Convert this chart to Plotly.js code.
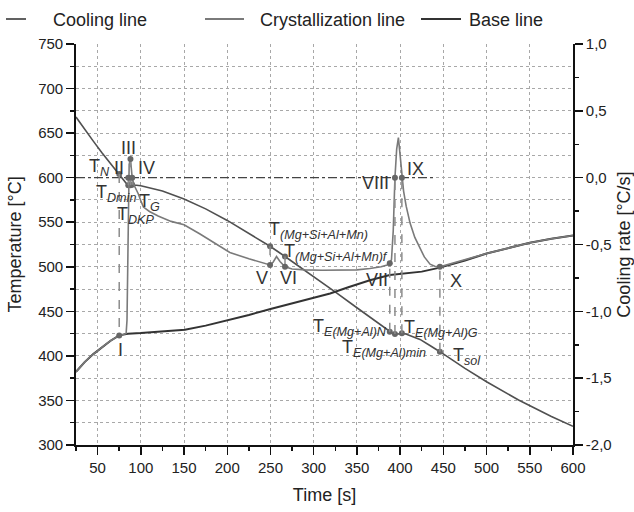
<!DOCTYPE html>
<html><head><meta charset="utf-8">
<script src="https://cdn.plot.ly/plotly-3.0.1.min.js"></script>
<style>html,body{margin:0;padding:0;background:#fff}#chart{width:634px;height:512px}</style>
</head><body><div id="chart"></div>
<script>
// Cooling line (temperature, left axis)
const coolTime = [25,35,45,55,65,75,80,84,86.5,88,90,95,100,125,150,175,200,225,249.5,266.8,300,326,350,370,388,391,394,398,402,406,411,423,434,446,475,500,537,550,575,600];
const coolTemp = [668,654,641,628,616,604,597,592.5,591.5,591.5,592,591.5,591,585,576,565,552,537.5,523,511.5,489,471,454,440,427,425.5,424.6,424.8,425.4,424.8,423,418.5,412,404.7,386,371,350.5,344,332,321];
// Crystallization line (cooling rate, right axis)
const crystTime = [25,30,35,40,45,50,55,60,65,70,75,80,83,84,84.8,85.5,86.5,88,89,90,92,95,97,100,103,110,120,135,150,168,185,203,225,240,249.5,253,257,261,266.8,275,290,310,330,350,365,378,385,388,390,392,393,394,396,398,400,402,404,407,411.5,417,423,428,434.6,440,446,460,480,500,525,550,575,600];
const crystRate = [-1.453,-1.413,-1.38,-1.347,-1.32,-1.293,-1.267,-1.243,-1.22,-1.2,-1.18,-1.173,-1.165,-1.067,-0.6,0,0.1,0.14,0.08,0,-0.053,-0.093,-0.12,-0.173,-0.22,-0.253,-0.287,-0.327,-0.353,-0.42,-0.487,-0.56,-0.607,-0.633,-0.653,-0.633,-0.59,-0.627,-0.667,-0.683,-0.69,-0.693,-0.693,-0.69,-0.68,-0.667,-0.653,-0.64,-0.613,-0.4,-0.2,0,0.213,0.3,0.167,0,-0.1,-0.213,-0.34,-0.447,-0.527,-0.593,-0.647,-0.663,-0.667,-0.64,-0.607,-0.567,-0.527,-0.487,-0.457,-0.433];
// Base line (cooling rate, right axis)
const baseTime = [25,35,45,55,65,75,85,100,125,151,175,203,225,250,275,300,319,340,365,388,411,425,446,475,500,525,550,575,600];
const baseRate = [-1.453,-1.38,-1.32,-1.267,-1.22,-1.18,-1.168,-1.163,-1.153,-1.137,-1.107,-1.065,-1.027,-0.983,-0.94,-0.9,-0.867,-0.82,-0.767,-0.728,-0.715,-0.703,-0.673,-0.62,-0.567,-0.527,-0.487,-0.457,-0.433];
// Characteristic points
const featTime = [75,85.5,88,90,249.5,266.8,388,394,402,446];
const featTemp = [604,591.5,591.5,592,523,511.5,427,424.6,425.4,404.7];
const featRate = [-1.18,0,0.14,0,-0.653,-0.667,-0.64,0,0,-0.667];
// Zero cooling-rate reference
const zeroTime = [25,440];
const zeroRate = [0,0];
// Right axis ticks
const rateTicks = [-2,-1.5,-1,-0.5,0,0.5,1];
const rateTickText = ['-2,0','-1,5','-1,0','-0,5','0,0','0,5','1,0'];
// Legend entries
const legendNames = ['Cooling line','Crystallization line','Base line'];
const legendColors = ['#505050','#7a7a7a','#333333'];

const FONT = 'Liberation Sans, Arial, Helvetica, sans-serif';
const tempToRate = T => (T - 600) / 150; // left [300,750] <-> right [-2,1]

const connX = [], connY = [];
featTime.forEach((t,i) => { connX.push(t,t,null); connY.push(tempToRate(featTemp[i]), featRate[i], null); });

const traces = [
  {x: baseTime, y: baseRate, yaxis:'y2', type:'scatter', mode:'lines', name:legendNames[2],
   line:{color:legendColors[2], width:2}},
  {x: crystTime, y: crystRate, yaxis:'y2', type:'scatter', mode:'lines', name:legendNames[1],
   line:{color:legendColors[1], width:1.6}},
  {x: coolTime, y: coolTemp, type:'scatter', mode:'lines', name:legendNames[0],
   line:{color:legendColors[0], width:1.6}},
  {x: zeroTime, y: zeroRate, yaxis:'y2', type:'scatter', mode:'lines', hoverinfo:'skip',
   line:{color:'#444', width:1.4, dash:'dashdot'}},
  {x: connX, y: connY, yaxis:'y2', type:'scatter', mode:'lines', hoverinfo:'skip',
   line:{color:'#8c8c8c', width:1.5, dash:'dash'}},
  {x: featTime, y: featTemp, type:'scatter', mode:'markers', marker:{color:'#666', size:6}},
  {x: featTime, y: featRate, yaxis:'y2', type:'scatter', mode:'markers', marker:{color:'#666', size:6}}
];

const lab = (x,y,text,xanchor) => ({x, y, xref:'x', yref:'y', text, showarrow:false, xanchor: xanchor||'center', yanchor:'middle',
  font:{family:FONT, size:18, color:'#333'}});

const annotations = [
  lab(52,611,'T<sub><i>N</i></sub>'),
  lab(75,611,'II'),
  lab(86,633,'III'),
  lab(107,610.5,'IV'),
  lab(71,582,'T<sub><i>Dmin</i></sub>'),
  lab(110,572,'T<sub><i>G</i></sub>'),
  lab(94,557,'T<sub><i>DKP</i></sub>'),
  lab(246,541,'T<sub><i>(Mg+Si+Al+Mn)</i></sub>','left'),
  lab(263,516,'T<sub><i>(Mg+Si+Al+Mn)f</i></sub>','left'),
  lab(76,406.6,'I'),
  lab(240,487,'V'),
  lab(271,487,'VI'),
  lab(373,485,'VII'),
  lab(372,594,'VIII'),
  lab(418,610,'IX'),
  lab(465,484,'X'),
  lab(297,432,'T<sub><i>E(Mg+Al)N</i></sub>','left'),
  lab(330,408,'T<sub><i>E(Mg+Al)min</i></sub>','left'),
  lab(402,431,'T<sub><i>E(Mg+Al)G</i></sub>','left'),
  lab(459,399,'T<sub><i>sol</i></sub>','left')
];

// manual legend (pixel placement converted to paper coords)
const PL = 76, PR = 573, PT = 44, PB = 445;
const px2x = px => (px - PL) / (PR - PL);
const py2y = py => (PB - py) / (PB - PT);
const legSym = [[6,26],[205,244],[421,461]];
const legText = [51,258,467];
const shapes = [];
legendNames.forEach((n,i) => {
  shapes.push({type:'line', xref:'paper', yref:'paper', x0:px2x(legSym[i][0]), x1:px2x(legSym[i][1]),
    y0:py2y(19), y1:py2y(19), line:{color:legendColors[i], width:1.8}});
  annotations.push({xref:'paper', yref:'paper', x:px2x(legText[i]), y:py2y(20), xanchor:'left', yanchor:'middle',
    text:n, showarrow:false, font:{family:FONT, size:18, color:'#222'}});
});

const tickFont = {family:FONT, size:15, color:'#222'};
const titleFont = {family:FONT, size:18, color:'#222'};

const layout = {
  width:634, height:512,
  margin:{l:76, r:61, t:44, b:67, pad:0},
  paper_bgcolor:'#fff', plot_bgcolor:'#fff',
  showlegend:false,
  xaxis:{range:[25,600], tickvals:[50,100,150,200,250,300,350,400,450,500,550,600], ticks:'outside', ticklen:8, tickwidth:1.5,
    tickcolor:'#111', showline:true, linecolor:'#111', linewidth:1.8, zeroline:false,
    showgrid:true, gridcolor:'#a8a8a8', griddash:'dot', gridwidth:1,
    minor:{dtick:25, tick0:25, ticks:'outside', ticklen:4, tickcolor:'#111', showgrid:false},
    tickfont:tickFont, title:{text:'Time [s]', font:titleFont, standoff:14}},
  yaxis:{range:[300,750], dtick:50, tick0:300, ticks:'outside', ticklen:8, tickwidth:1.5, tickcolor:'#111',
    showline:true, linecolor:'#111', linewidth:1.8, zeroline:false,
    showgrid:true, gridcolor:'#a8a8a8', griddash:'dot', gridwidth:1,
    minor:{dtick:25, tick0:300, ticks:'outside', ticklen:4, tickcolor:'#111', showgrid:true, gridcolor:'#a8a8a8', griddash:'dot', gridwidth:1},
    tickfont:tickFont, title:{text:'Temperature [°C]', font:titleFont, standoff:12}},
  yaxis2:{range:[-2,1], overlaying:'y', side:'right', tickvals:rateTicks, ticktext:rateTickText,
    ticks:'outside', ticklen:8, tickwidth:1.5, tickcolor:'#111', showline:true, linecolor:'#111', linewidth:1.8,
    zeroline:false, showgrid:false,
    minor:{dtick:0.25, tick0:-2, ticks:'outside', ticklen:4, tickcolor:'#111', showgrid:false},
    tickfont:tickFont, title:{text:'Cooling rate [°C/s]', font:titleFont, standoff:8}},
  shapes,
  annotations
};

Plotly.newPlot('chart', traces, layout, {staticPlot:true, displayModeBar:false});
</script>
</body></html>
